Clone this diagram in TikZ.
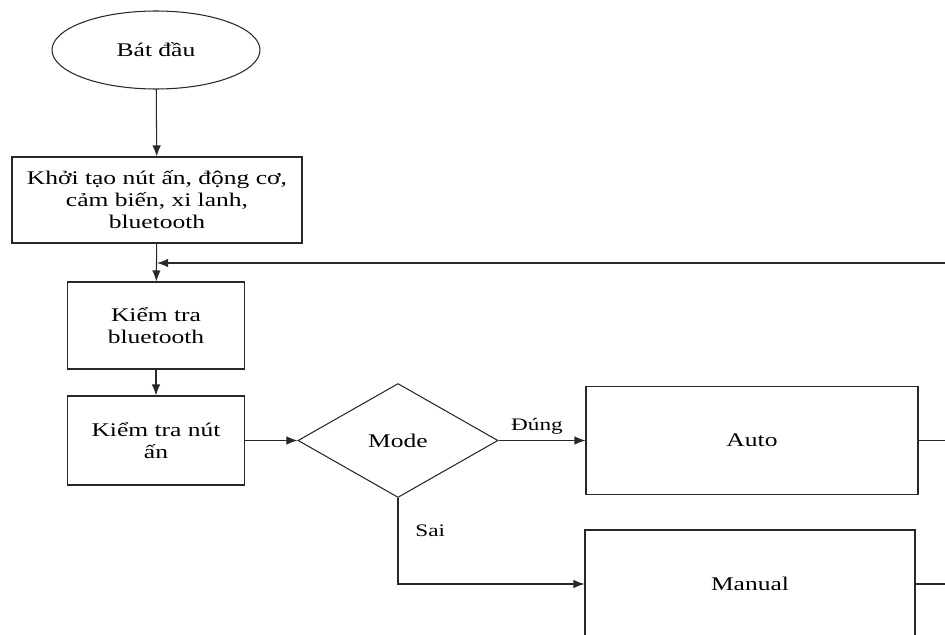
\documentclass[tikz,border=0pt]{standalone}
\usepackage{fontspec}
\setmainfont{Liberation Serif}[FakeStretch=1.32]
\usepackage{tikz}
\usetikzlibrary{arrows.meta, shapes.geometric}
\definecolor{flowline}{RGB}{40, 40, 40}

\begin{document}
\begin{tikzpicture}[every node/.style={align=center, font=\fontsize{11}{12.5}\selectfont},
    startnode/.style={ellipse, draw=flowline, line width=0.6pt, minimum width=4.16cm, minimum height=1.56cm, inner sep=0pt},
    procbox/.style={rectangle, draw=flowline, line width=0.6pt, inner sep=0pt},
    decision/.style={diamond, draw=flowline, line width=0.6pt, aspect=1.75, minimum width=4cm, minimum height=2.28cm, inner sep=0pt},
    arr/.style={-{Latex[length=2.2mm, width=1.7mm]}, draw=flowline, line width=0.6pt},
    flow/.style={draw=flowline, line width=0.6pt},
    edgelabel/.style={font=\fontsize{10}{11}\selectfont}]
    \clip (0,0) rectangle (18.9,-12.7);

    \node[startnode] (start) at (3.12, -1.0) {Bát đầu};
    \node[procbox, minimum width=5.8cm, minimum height=1.72cm] (init) at (3.14, -4.0)
        {Khởi tạo nút ấn, động cơ,\\cảm biến, xi lanh,\\bluetooth};
    \node[procbox, minimum width=3.54cm, minimum height=1.74cm] (chkbt) at (3.12, -6.51)
        {Kiểm tra\\bluetooth};
    \node[procbox, minimum width=3.54cm, minimum height=1.78cm] (chkbtn) at (3.12, -8.81)
        {Kiểm tra nút\\ấn};
    \node[decision] (mode) at (7.96, -8.81) {Mode};
    \node[procbox, minimum width=6.64cm, minimum height=2.16cm] (auto) at (15.04, -8.81) {Auto};
    \node[procbox, minimum width=6.6cm, minimum height=2.16cm] (manual) at (15.0, -11.68) {Manual};

    \coordinate (loopin) at (18.9, -5.26);
    \coordinate (autoout) at (18.9, -8.81);
    \coordinate (manualout) at (18.9, -11.68);

    \draw[arr] (start) -- (init);
    \draw[arr] (init) -- (chkbt);
    \draw[arr] (loopin) -- ([xshift=0.6pt]loopin -| chkbt.north);
    \draw[arr] (chkbt) -- (chkbtn);
    \draw[arr] (chkbtn) -- (mode);
    \draw[arr] (mode) -- node[edgelabel, above, xshift=-0.1cm] {Đúng} (auto);
    \draw[arr] (mode.south) |- node[edgelabel, pos=0.19, anchor=west, xshift=0.22cm] {Sai} (manual.west);
    \draw[flow] (auto) -- (autoout);
    \draw[flow] (manual) -- (manualout);
\end{tikzpicture}
\end{document}
